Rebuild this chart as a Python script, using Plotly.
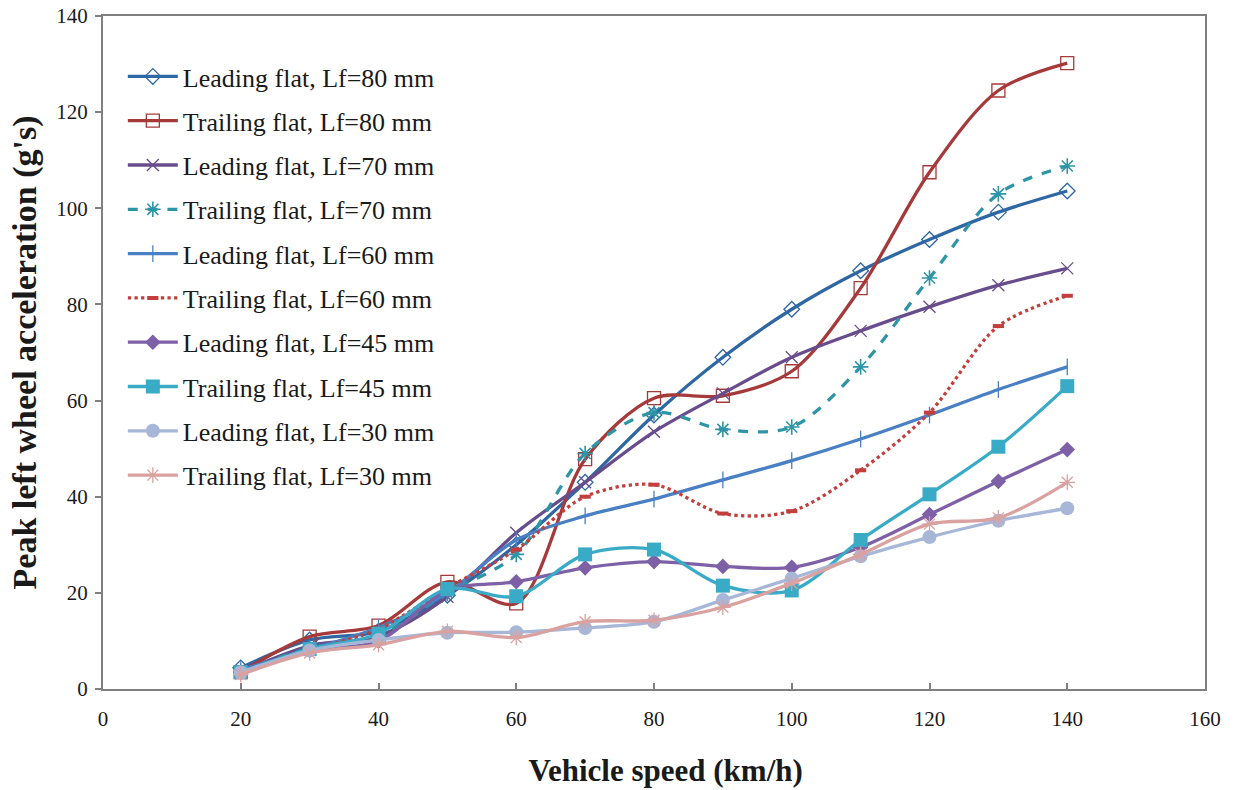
import plotly.graph_objects as go

speed = [20, 30, 40, 50, 60, 70, 80, 90, 100, 110, 120, 130, 140]

lead_80 = [4.4, 10.2, 12.0, 19.5, 30.0, 43.0, 57.0, 69.0, 79.0, 87.0, 93.5, 99.2, 103.6]
trail_80 = [3.5, 10.9, 13.2, 22.3, 17.8, 47.8, 60.5, 61.0, 66.1, 83.4, 107.5, 124.5, 130.2]
lead_70 = [3.5, 9.0, 11.0, 19.2, 32.5, 43.0, 53.5, 61.5, 69.0, 74.5, 79.5, 84.0, 87.5]
trail_70 = [3.5, 8.5, 11.0, 20.0, 28.0, 49.0, 57.5, 54.0, 54.5, 67.0, 85.5, 103.0, 108.8]
lead_60 = [4.0, 8.2, 12.8, 20.0, 31.0, 36.0, 39.5, 43.5, 47.5, 52.0, 57.0, 62.3, 67.0]
trail_60 = [3.5, 8.0, 12.5, 21.0, 29.0, 40.0, 42.5, 36.5, 37.0, 45.5, 57.5, 75.5, 81.8]
lead_45 = [3.5, 8.0, 10.0, 20.5, 22.3, 25.2, 26.5, 25.5, 25.3, 29.5, 36.3, 43.2, 49.8]
trail_45 = [3.5, 8.3, 11.5, 20.8, 19.3, 28.0, 29.0, 21.5, 20.5, 31.0, 40.5, 50.4, 63.0]
lead_30 = [3.5, 8.0, 10.2, 11.7, 11.8, 12.7, 14.0, 18.5, 23.0, 27.6, 31.6, 35.0, 37.6]
trail_30 = [3.0, 7.5, 9.2, 12.0, 10.7, 14.0, 14.3, 17.0, 22.0, 28.0, 34.3, 35.6, 43.0]

series_names = [
    "Leading flat, Lf=80 mm", "Trailing flat, Lf=80 mm",
    "Leading flat, Lf=70 mm", "Trailing flat, Lf=70 mm",
    "Leading flat, Lf=60 mm", "Trailing flat, Lf=60 mm",
    "Leading flat, Lf=45 mm", "Trailing flat, Lf=45 mm",
    "Leading flat, Lf=30 mm", "Trailing flat, Lf=30 mm",
]
series_values = [lead_80, trail_80, lead_70, trail_70, lead_60, trail_60,
                 lead_45, trail_45, lead_30, trail_30]

x_ticks = [0, 20, 40, 60, 80, 100, 120, 140, 160]
y_ticks = [0, 20, 40, 60, 80, 100, 120, 140]

styles = [
    dict(color="#2F67A3", dash="solid", symbol="diamond-open", size=12, mlw=1.3),
    dict(color="#A6393A", dash="solid", symbol="square-open", size=13, mlw=1.3),
    dict(color="#684D8C", dash="solid", symbol="x-thin", size=12, mlw=1.3),
    dict(color="#2E95A6", dash="dash", symbol="asterisk-open", size=13, mlw=1.6),
    dict(color="#4880C3", dash="solid", symbol="line-ns", size=12, mlw=1.3),
    dict(color="#C23F3D", dash="dot", symbol="line-ew", size=8, mlw=4),
    dict(color="#7D60A6", dash="solid", symbol="diamond", size=12, mlw=0),
    dict(color="#3AABC6", dash="solid", symbol="square", size=14, mlw=0),
    dict(color="#A7B7D8", dash="solid", symbol="circle", size=14, mlw=0),
    dict(color="#D9A19F", dash="solid", symbol="asterisk-open", size=13, mlw=1.3),
]

fig = go.Figure()
for i, (name, vals, st) in enumerate(zip(series_names, series_values, styles)):
    marker = dict(symbol=st["symbol"], size=st["size"], color=st["color"],
                  line=dict(color=st["color"], width=st["mlw"]))
    fig.add_trace(go.Scatter(
        x=speed, y=vals, name=name, mode="lines+markers",
        line=dict(color=st["color"], width=3.3, dash=st["dash"], shape="spline", smoothing=0.9),
        marker=marker, legendgroup=f"g{i}",
    ))

font_family = "Liberation Serif, Times New Roman, serif"
fig.update_layout(
    width=1236, height=790,
    margin=dict(l=103, r=31, t=16, b=101),
    plot_bgcolor="white", paper_bgcolor="white",
    font=dict(family=font_family, color="#1a1a1a", size=21),
    showlegend=True,
    legend=dict(
        x=0.018, y=0.945, xanchor="left", yanchor="top",
        font=dict(family=font_family, size=26, color="#1a1a1a"),
        bgcolor="rgba(0,0,0,0)", itemwidth=50, tracegroupgap=7.5,
        traceorder="grouped",
    ),
    xaxis=dict(
        range=[0, 160], tickvals=x_ticks, ticktext=[str(v) for v in x_ticks],
        showgrid=False, zeroline=False, showline=True, linecolor="#808080", linewidth=2,
        mirror=True, ticks="inside", ticklen=6, tickcolor="#808080", tickwidth=1.5,
        ticklabelstandoff=10, automargin=False, ticklabeloverflow="allow",
        tickfont=dict(size=21, family=font_family, color="#1a1a1a"),
        title=dict(text="<b>&nbsp;&nbsp;&nbsp;Vehicle speed (km/h)</b>", font=dict(size=31, family=font_family, color="#1a1a1a"), standoff=29),
    ),
    yaxis=dict(
        range=[0, 140], tickvals=y_ticks, ticktext=[str(v) for v in y_ticks],
        showgrid=False, zeroline=False, showline=True, linecolor="#808080", linewidth=2,
        mirror=True, ticks="outside", ticklen=6, tickcolor="#808080", tickwidth=1.5,
        ticklabelstandoff=3, automargin=False, ticklabeloverflow="allow",
        tickfont=dict(size=21, family=font_family, color="#1a1a1a"),
        title=dict(text="<b>Peak left wheel acceleration (g's)</b>", font=dict(size=34, family=font_family, color="#1a1a1a"), standoff=9),
    ),
)

fig.write_html("out.html", config={"displayModeBar": False},
               post_script="document.body.style.margin='0';")
